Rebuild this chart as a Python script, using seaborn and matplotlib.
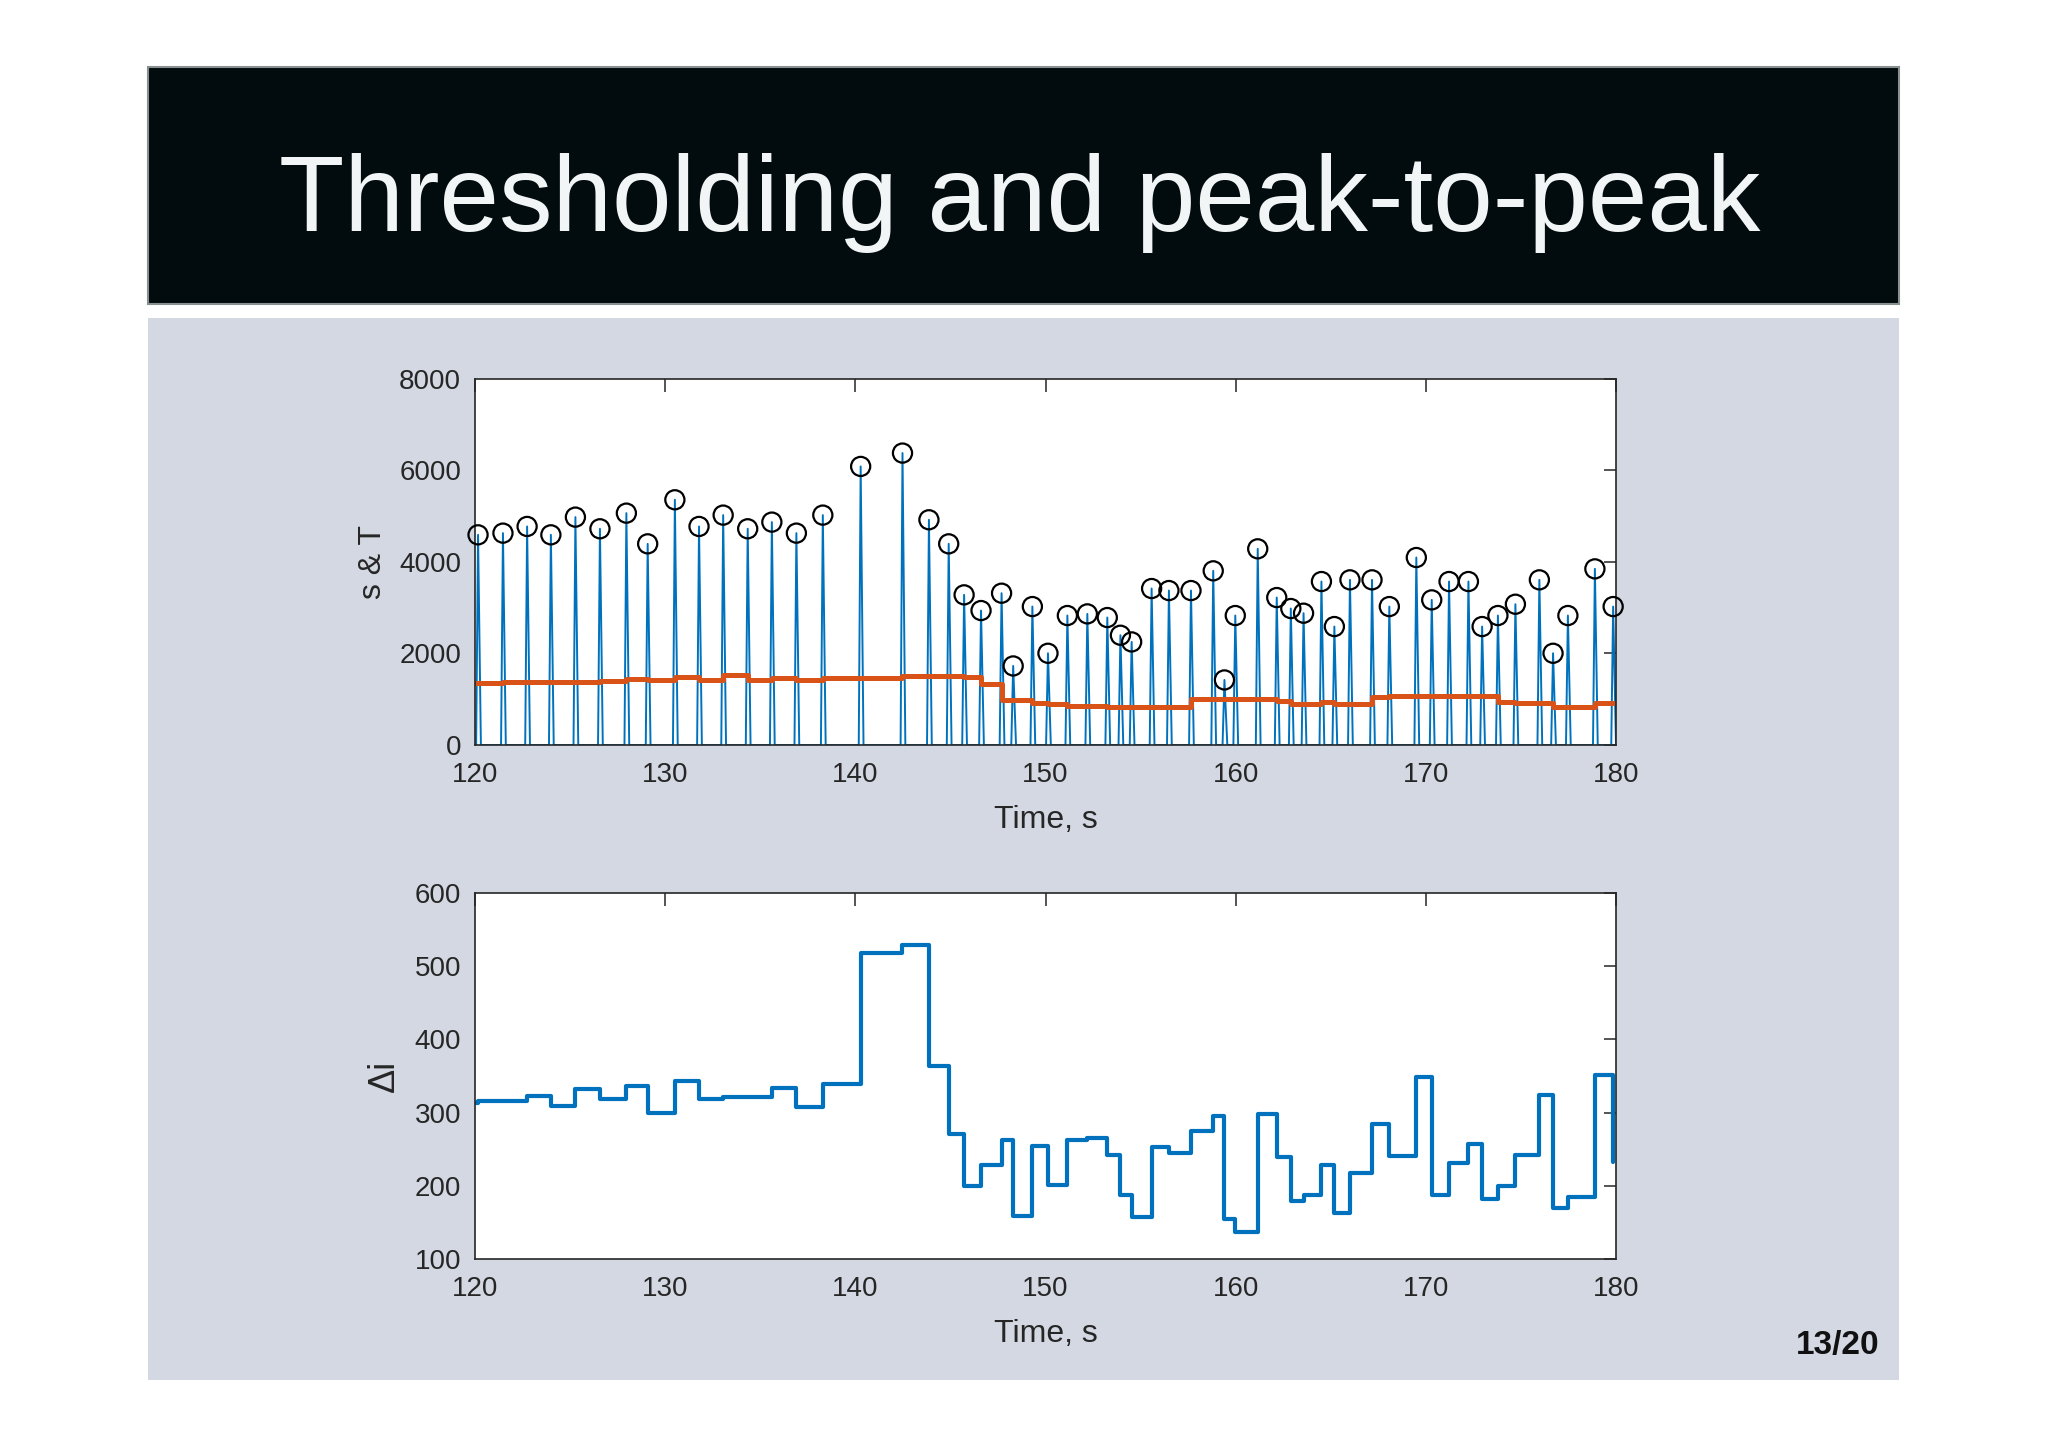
import numpy as np
import pandas as pd
import seaborn as sns
import matplotlib
matplotlib.use("Agg")
from matplotlib import pyplot as plt
from matplotlib.patches import Rectangle

# detected peaks (time in s, amplitude)
peak_t = [120.16, 121.47, 122.74, 123.99, 125.28, 126.57, 127.96, 129.08, 130.51, 131.78,
          133.05, 134.34, 135.61, 136.90, 138.29, 140.28, 142.48, 143.87, 144.91, 145.72,
          146.61, 147.69, 148.30, 149.31, 150.13, 151.15, 152.20, 153.25, 153.94, 154.53,
          155.58, 156.49, 157.65, 158.82, 159.41, 159.98, 161.16, 162.16, 162.90, 163.57,
          164.51, 165.19, 166.01, 167.17, 168.08, 169.50, 170.31, 171.22, 172.24, 172.96,
          173.79, 174.71, 175.97, 176.69, 177.47, 178.89, 179.85]
peak_v = [4594, 4631, 4777, 4594, 4981, 4726, 5068, 4397, 5360, 4777,
          5025, 4726, 4872, 4631, 5025, 6089, 6381, 4923, 4397, 3282,
          2939, 3318, 1728, 3026, 2005, 2830, 2866, 2786, 2399, 2253,
          3420, 3376, 3376, 3807, 1422, 2830, 4288, 3223, 2983, 2881,
          3573, 2589, 3610, 3610, 3026, 4098, 3172, 3573, 3573, 2589,
          2830, 3077, 3610, 2005, 2830, 3850, 3026]

# adaptive threshold T, value held after each peak
thresh_start = 1364
thresh = [1364, 1370, 1375, 1375, 1380, 1400, 1437, 1420, 1495, 1422,
          1531, 1422, 1459, 1422, 1459, 1459, 1517, 1517, 1510, 1495,
          1327, 985, 985, 912, 890, 860, 845, 840, 839, 839,
          839, 839, 999, 1005, 1005, 1005, 1005, 970, 890, 890,
          948, 890, 890, 1057, 1072, 1075, 1072, 1072, 1072, 1072,
          948, 926, 926, 839, 839, 912, 912]

# peak-to-peak interval (samples), value held after each peak
di_start = 313
di = [315.6, 315.6, 323.3, 308.8, 332.0, 318.8, 336.6, 299.2, 342.5, 318.3,
      321.0, 321.0, 333.4, 307.4, 339.3, 518.0, 528.5, 363.5, 270.9, 200.3,
      228.5, 262.7, 158.3, 254.0, 201.6, 262.7, 265.0, 242.7, 188.0, 157.0,
      252.7, 244.5, 274.6, 296.0, 154.7, 137.4, 298.3, 240.0, 178.9, 188.0,
      229.0, 162.4, 217.0, 284.6, 241.3, 349.3, 188.0, 231.3, 257.3, 182.0,
      200.3, 242.7, 324.3, 169.7, 185.2, 351.6, 232.2]

x_ticks = [120, 130, 140, 150, 160, 170, 180]
y_ticks_top = [0, 2000, 4000, 6000, 8000]
y_ticks_bot = [100, 200, 300, 400, 500, 600]

BLUE = "#0072BD"
ORANGE = "#D95319"
INK = "#262626"

sns.set_theme(style="white")
plt.rcParams["font.family"] = ["Liberation Sans", "DejaVu Sans"]

# spike-shaped signal built around the peaks
sig_t = [120.0]
sig_v = [0.0]
for t, v in zip(peak_t, peak_v):
    sig_t += [t - 0.1, t, t + 0.15]
    sig_v += [0.0, v, 0.0]
sig_t.append(180.0)
sig_v.append(0.0)
sig = pd.DataFrame({"t": sig_t, "s": sig_v})
peaks = pd.DataFrame({"t": peak_t, "s": peak_v})
thr = pd.DataFrame({"t": [120.0] + peak_t, "T": [thresh_start] + thresh})
intervals = pd.DataFrame({"t": [120.0] + peak_t, "di": [di_start] + di})

W, H = 2048, 1448
fig = plt.figure(figsize=(W / 100, H / 100), dpi=100)
fig.patch.set_facecolor("white")

# slide decoration
fig.add_artist(Rectangle((148 / W, 1 - 304 / H), (1899 - 148) / W, (304 - 67) / H,
                         transform=fig.transFigure, facecolor="#020c0e",
                         edgecolor="#8a8f92", linewidth=1.5, zorder=0))
fig.add_artist(Rectangle((148 / W, 1 - 1380 / H), (1899 - 148) / W, (1380 - 318) / H,
                         transform=fig.transFigure, facecolor="#d3d8e2",
                         edgecolor="none", zorder=0))
fig.text(1020 / W, 1 - 231 / H, "Thresholding and peak-to-peak", ha="center",
         va="baseline", fontsize=77, color="#f2f5f5")
fig.text(1880 / W, 1 - 1354 / H, "13/20", ha="right", va="baseline",
         fontsize=24, fontweight="bold", color="#111111")

ax1 = fig.add_axes([475 / W, 1 - 745 / H, 1141 / W, 366 / H])
ax2 = fig.add_axes([475 / W, 1 - 1259 / H, 1141 / W, 366 / H])

sns.lineplot(data=sig, x="t", y="s", ax=ax1, color=BLUE, linewidth=1.4,
             estimator=None, sort=False)
sns.lineplot(data=thr, x="t", y="T", ax=ax1, color=ORANGE, linewidth=3.6,
             estimator=None, sort=False, drawstyle="steps-post")
sns.scatterplot(data=peaks, x="t", y="s", ax=ax1, marker="o", s=190,
                facecolor="none", edgecolor="black", linewidth=1.6,
                clip_on=False, zorder=5)
sns.lineplot(data=intervals, x="t", y="di", ax=ax2, color=BLUE, linewidth=3.0,
             estimator=None, sort=False, drawstyle="steps-post")

for ax, yt, ylab, yx, ls in [(ax1, y_ticks_top, "s & T", -0.076, 23),
                             (ax2, y_ticks_bot, "Δi", -0.064, 26)]:
    ax.set_facecolor("white")
    ax.set_xlim(120, 180)
    ax.set_ylim(yt[0], yt[-1])
    ax.set_xticks(x_ticks)
    ax.set_yticks(yt)
    ax.tick_params(direction="in", length=9, width=1.1, colors=INK,
                   labelsize=20, top=True, right=True, pad=10)
    ax.tick_params(axis="x", pad=12)
    for sp in ax.spines.values():
        sp.set_color(INK)
        sp.set_linewidth(1.2)
        sp.set_visible(True)
    ax.set_xlabel("Time, s", fontsize=23, color=INK)
    ax.set_ylabel(ylab, fontsize=ls, color=INK)
    ax.xaxis.set_label_coords(0.5, -0.165)
    ax.yaxis.set_label_coords(yx, 0.5)
    leg = ax.get_legend()
    if leg is not None:
        leg.remove()

fig.savefig("out.png", dpi=100, facecolor=fig.get_facecolor())
